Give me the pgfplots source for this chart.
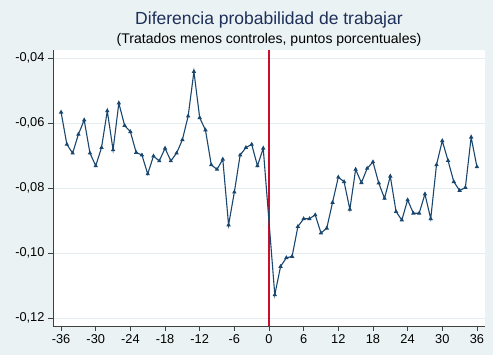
\documentclass[border=0pt]{standalone}
\usepackage{pgfplots}
\pgfplotsset{compat=1.18}
\usepackage{fontspec}
\setmainfont{Liberation Sans}
\definecolor{bgc}{HTML}{EAF2F3}
\definecolor{gridc}{HTML}{E4EEF0}
\definecolor{navy}{HTML}{1A476F}
\definecolor{vred}{HTML}{C8102E}
\definecolor{axc}{HTML}{404040}
\definecolor{titc}{HTML}{1E2F5A}
\begin{document}
\begin{tikzpicture}
\fill[bgc] (0,0) rectangle (493pt,355pt);
\begin{axis}[
  at={(53pt,29pt)}, anchor=south west,
  scale only axis, width=432pt, height=276pt,
  xmin=-37.4, xmax=37.4, ymin=-0.1224, ymax=-0.03745,
  axis background/.style={fill=white},
  axis x line*=bottom, axis y line*=left,
  axis line style={axc, line width=0.8pt},
  tick style={axc, line width=0.8pt},
  tick align=outside, major tick length=5pt,
  xtick={-36,-30,...,36},
  xticklabels={-36,-30,-24,-18,-12,-6,0,6,12,18,24,30,36},
  ytick={-0.12,-0.10,-0.08,-0.06,-0.04},
  yticklabels={-0{,}12,-0{,}10,-0{,}08,-0{,}06,-0{,}04},
  ticklabel style={font=\fontsize{12.8}{14}\selectfont, text=black},
  ymajorgrids, grid style={gridc, line width=1pt},
]
\addplot[draw=vred, color=vred, line width=1.1pt, mark=none, forget plot] coordinates {(0,-0.1224) (0,-0.03745)};
\addplot[navy, line width=1.1pt, mark=triangle*, mark size=1.5pt] coordinates {
(-36,-0.0566) (-35,-0.0665) (-34,-0.0692) (-33,-0.0634) (-32,-0.0590)
(-31,-0.0692) (-30,-0.0731) (-29,-0.0675) (-28,-0.0562) (-27,-0.0682)
(-26,-0.0538) (-25,-0.0607) (-24,-0.0626) (-23,-0.0690) (-22,-0.0698)
(-21,-0.0756) (-20,-0.0701) (-19,-0.0716) (-18,-0.0677) (-17,-0.0716)
(-16,-0.0692) (-15,-0.0651) (-14,-0.0578) (-13,-0.0441) (-12,-0.0583)
(-11,-0.0621) (-10,-0.0728) (-9,-0.0742) (-8,-0.0711) (-7,-0.0913)
(-6,-0.0812) (-5,-0.0698) (-4,-0.0675) (-3,-0.0665) (-2,-0.0731)
(-1,-0.0677) (1,-0.1128) (2,-0.1041) (3,-0.1014) (4,-0.1010)
(5,-0.0918) (6,-0.0894) (7,-0.0894) (8,-0.0882) (9,-0.0938)
(10,-0.0923) (11,-0.0844) (12,-0.0766) (13,-0.0780) (14,-0.0865)
(15,-0.0742) (16,-0.0783) (17,-0.0739) (18,-0.0719) (19,-0.0784)
(20,-0.0831) (21,-0.0763) (22,-0.0872) (23,-0.0898) (24,-0.0836)
(25,-0.0877) (26,-0.0877) (27,-0.0818) (28,-0.0894) (29,-0.0728)
(30,-0.0654) (31,-0.0715) (32,-0.0780) (33,-0.0807) (34,-0.0798)
(35,-0.0643) (36,-0.0734)
};
\end{axis}
\node[anchor=base, text=titc, font=\fontsize{17.5}{20}\selectfont] at (269pt,330pt) {Diferencia probabilidad de trabajar};
\node[anchor=base, text=black, font=\fontsize{14}{16}\selectfont] at (269pt,311pt) {(Tratados menos controles, puntos porcentuales)};
\end{tikzpicture}
\end{document}
